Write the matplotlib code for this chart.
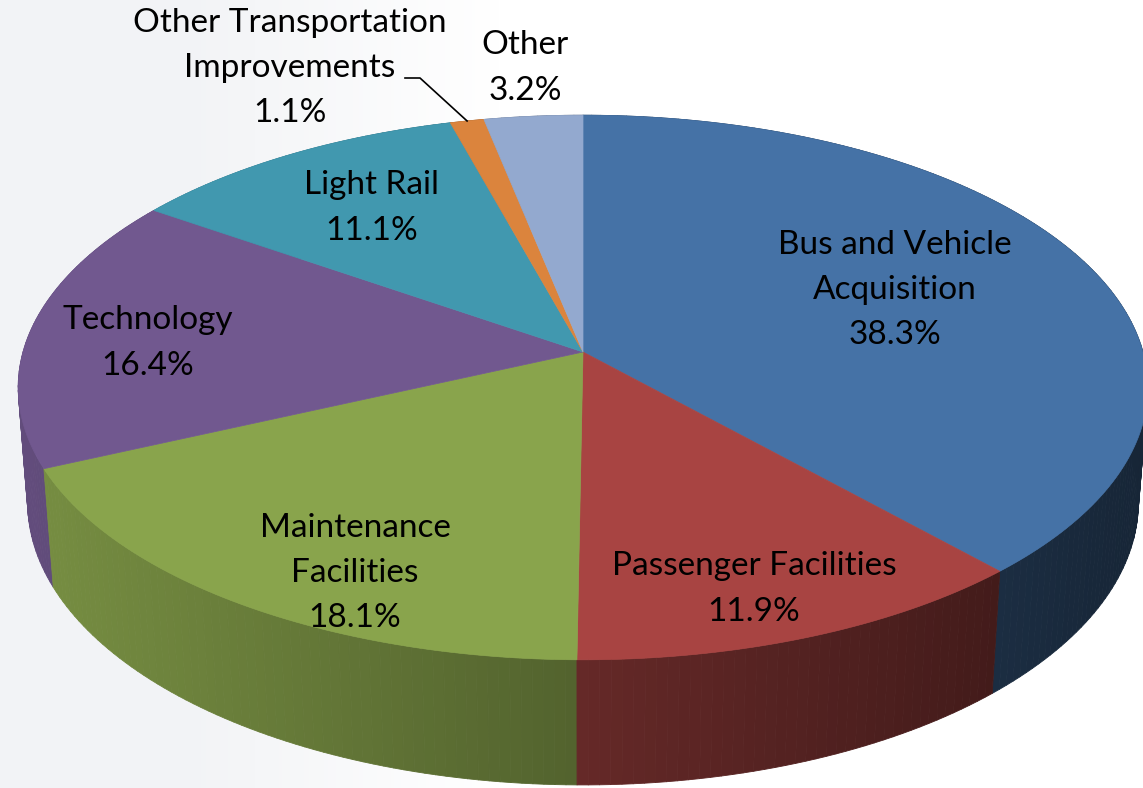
import numpy as np
import matplotlib
matplotlib.use("Agg")
import matplotlib.pyplot as plt
from matplotlib.collections import PolyCollection
from matplotlib.colors import to_rgb

# data
categories = ["Bus and Vehicle\nAcquisition", "Passenger Facilities", "Maintenance\nFacilities",
              "Technology", "Light Rail", "Other Transportation\nImprovements", "Other"]
shares = [38.3, 11.9, 18.1, 16.4, 11.1, 1.1, 3.2]
colors = ["#4572A6", "#A84442", "#89A44C", "#71588F", "#4198AF", "#DB843D", "#93A9CF"]

# label anchors (pixel layout)
label_pos = [(895, 290), (754, 589), (355, 573), (148, 343), (372, 208), (290, 68), (525, 68)]

W, H = 1143, 788
fig = plt.figure(figsize=(W / 100, H / 100), dpi=100)
ax = fig.add_axes([0, 0, 1, 1])
ax.set_xlim(0, W)
ax.set_ylim(H, 0)
ax.axis("off")

# faint grey backdrop on the left
grad = np.linspace(1, 0, 256)[None, :]
grad = np.clip(grad * 1.6, 0, 1)
bg = np.ones((1, 256, 3))
bg = bg - grad[..., None] * np.array([0.05, 0.045, 0.035])
ax.imshow(bg, extent=(0, 500, H, 0), aspect="auto", zorder=0)

# perspective projection of a disc seen from above
cx, cy, s = 583, 352, 560
sin_e = 0.478
cos_e = np.sqrt(1 - sin_e ** 2)
D = 6.74
thick = 0.236


def project(theta, zw):
    X = np.sin(theta)
    Y = np.cos(theta)
    yc = Y * sin_e + zw * cos_e
    zc = D + Y * cos_e - zw * sin_e
    return cx + s * X * D / zc, cy - s * yc * D / zc


total = sum(shares)
edges = np.concatenate([[0], np.cumsum(shares)]) / total * 2 * np.pi

# side walls
quads, qcols, depth = [], [], []
for i, c in enumerate(colors):
    base = np.array(to_rgb(c))
    n = max(int(np.degrees(edges[i + 1] - edges[i])), 2)
    t = np.linspace(edges[i], edges[i + 1], n + 1)
    for a, b in zip(t[:-1], t[1:]):
        x1, y1 = project(a, 0)
        x2, y2 = project(b, 0)
        x3, y3 = project(b, -thick)
        x4, y4 = project(a, -thick)
        quads.append([(x1, y1), (x2, y2), (x3, y3), (x4, y4)])
        xm = (x1 + x2) / 2
        f = 0.88 - 0.55 * xm / W
        qcols.append(np.clip(base * f, 0, 1))
        depth.append(np.cos((a + b) / 2))
order = np.argsort(depth)[::-1]
pc = PolyCollection([quads[k] for k in order], facecolors=[qcols[k] for k in order],
                    edgecolors=[qcols[k] for k in order], linewidths=0.6, zorder=2)
ax.add_collection(pc)

# top face
for i, c in enumerate(colors):
    t = np.linspace(edges[i], edges[i + 1], 200)
    xs, ys = project(t, 0)
    poly = np.column_stack([np.r_[cx, xs], np.r_[cy, ys]])
    ax.add_patch(plt.Polygon(poly, closed=True, facecolor=c, edgecolor=c, lw=0.5, zorder=3))

# labels
font = "Lato"
for name, v, (lx, ly) in zip(categories, shares, label_pos):
    ax.text(lx, ly, f"{name}\n{v:.1f}%", ha="center", va="center", fontsize=24,
            family=font, color="black", linespacing=1.63, zorder=5)

# leader line for the small orange slice
mid = (edges[5] + edges[6]) / 2
ex, ey = project(mid, 0)
ax.plot([405, 420, ex], [78, 78, ey], color="black", lw=1.2, zorder=5)

fig.savefig("out.png", dpi=100)
